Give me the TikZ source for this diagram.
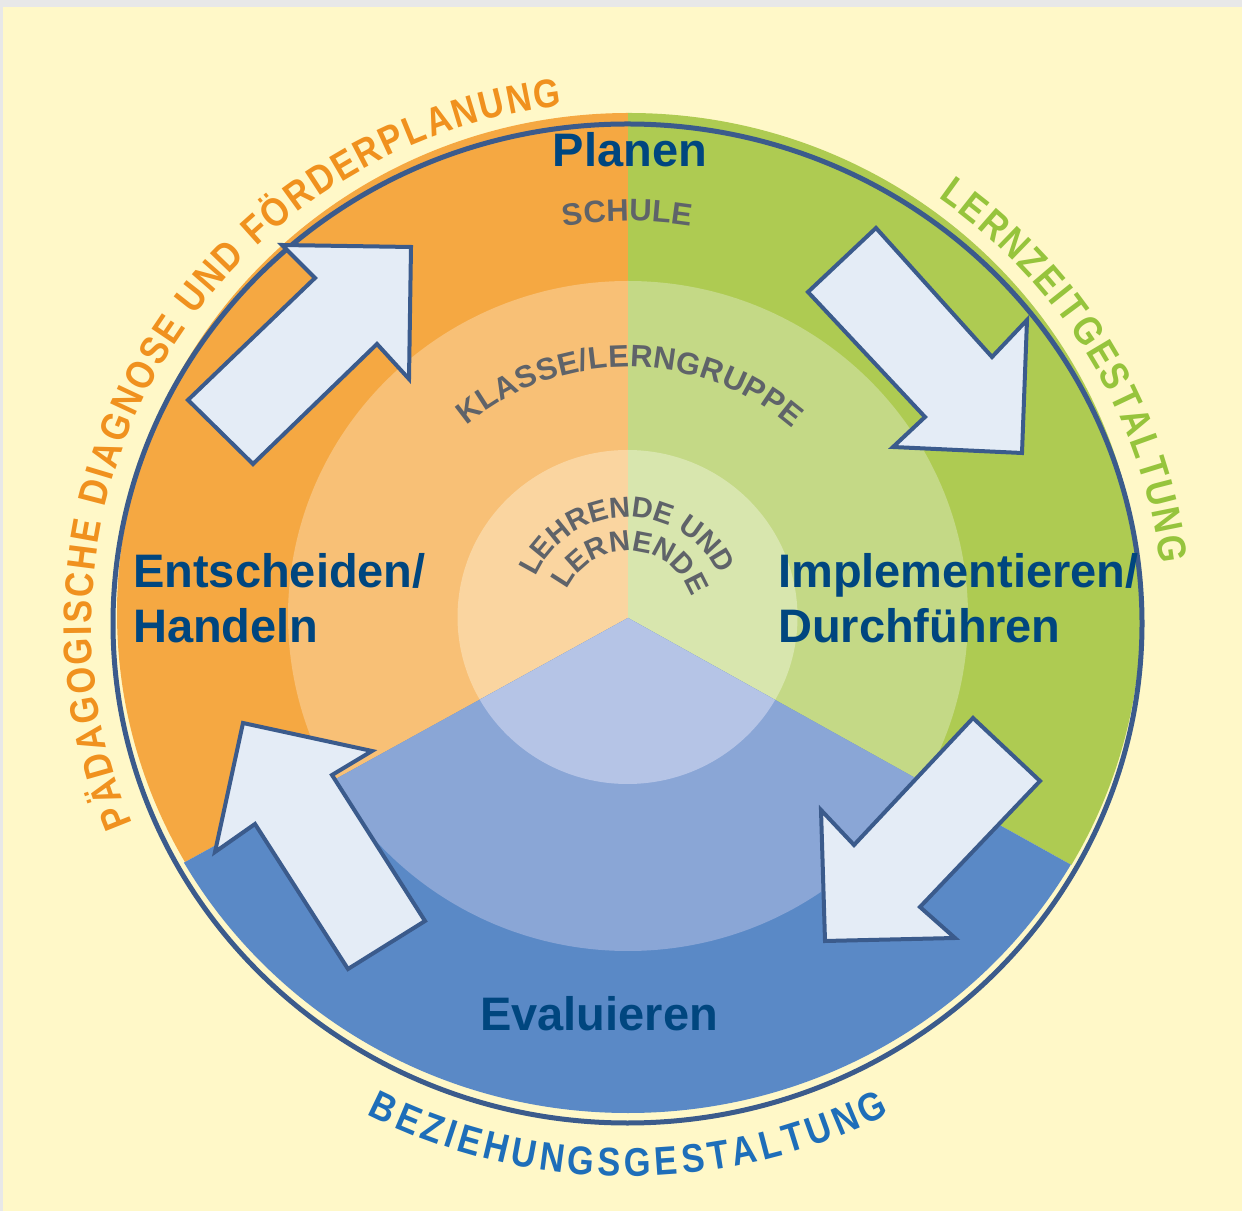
\documentclass[tikz,border=0pt]{standalone}
\usepackage{fontspec}
\setmainfont{Liberation Sans}
\newfontfamily\condbold[FakeStretch=0.86]{Liberation Sans Bold}
\usetikzlibrary{decorations.text}
\definecolor{bggray}{RGB}{232,232,232}
\definecolor{cream}{RGB}{255,248,200}
\definecolor{orA}{RGB}{245,168,66}
\definecolor{orB}{RGB}{248,192,118}
\definecolor{orC}{RGB}{250,213,160}
\definecolor{grA}{RGB}{174,203,82}
\definecolor{grB}{RGB}{196,217,134}
\definecolor{grC}{RGB}{216,230,174}
\definecolor{blA}{RGB}{90,137,198}
\definecolor{blB}{RGB}{138,166,214}
\definecolor{blC}{RGB}{181,196,230}
\definecolor{outl}{RGB}{59,91,140}
\definecolor{arrfill}{RGB}{228,236,246}
\definecolor{headcol}{RGB}{0,70,127}
\definecolor{ringtxt}{RGB}{95,99,105}
\definecolor{orT}{RGB}{240,145,30}
\definecolor{grT}{RGB}{150,196,60}
\definecolor{blT}{RGB}{30,110,185}
\newcommand\rfontA{\fontsize{31}{31}\selectfont\bfseries}
\newcommand\rfontB{\fontsize{29}{29}\selectfont\bfseries}
\newcommand\ofontA{\fontsize{40}{40}\selectfont\condbold}
\tikzset{
  blockarrow/.style={fill=arrfill, draw=outl, line width=4pt, line join=miter},
  heading/.style={font=\fontsize{47}{47}\selectfont\bfseries, text=headcol, inner sep=0pt},
}
\begin{document}
\begin{tikzpicture}[x=1pt,y=1pt]
\useasboundingbox (0,0) rectangle (1242,1211);
\fill[bggray] (0,0) rectangle (1242,1211);
\fill[cream] (3,0) rectangle (1242,1204);

% sectors
\begin{scope}
  \clip (628,593) -- (628,1211) -- (0,1211) -- (0,247) -- cycle;
  \fill[orA] (629,598) ellipse [x radius=512pt, y radius=500pt];
  \fill[orB] (628,595) ellipse [x radius=340pt, y radius=335pt];
  \fill[orC] (627.5,594) ellipse [x radius=170pt, y radius=167pt];
\end{scope}
\begin{scope}
  \clip (628,593) -- (628,1211) -- (1242,1211) -- (1242,251) -- cycle;
  \fill[grA] (629,598) ellipse [x radius=512pt, y radius=500pt];
  \fill[grB] (628,595) ellipse [x radius=340pt, y radius=335pt];
  \fill[grC] (627.5,594) ellipse [x radius=170pt, y radius=167pt];
\end{scope}
\begin{scope}
  \clip (628,593) -- (0,247) -- (0,0) -- (1242,0) -- (1242,251) -- cycle;
  \fill[blA] (628,597) ellipse [x radius=512pt, y radius=499pt];
  \fill[blB] (628,595) ellipse [x radius=340pt, y radius=335pt];
  \fill[blC] (627.5,594) ellipse [x radius=170pt, y radius=167pt];
\end{scope}

% outline
\draw[outl, line width=5pt] (627.5,587.5) ellipse [x radius=514.5pt, y radius=499.5pt];

% ring labels
\begin{scope}[shift={(628,593)}]
  \path[decorate, decoration={text along path, text align=fit to path, text color=ringtxt,
     text={|\rfontA|SCHULE}}] (99.3:397pt) arc [start angle=99.3, end angle=80.9, radius=397pt];
  \path[decorate, decoration={text along path, text align=fit to path, text color=ringtxt,
     text={|\rfontA|KLASSE/LERNGRUPPE}}] (130:251pt) arc [start angle=130, end angle=49, radius=251pt];
  \path[decorate, decoration={text along path, text align=fit to path, text color=ringtxt,
     text={|\rfontB|LEHRENDE UND}}] (156:101pt) arc [start angle=156, end angle=26, radius=101pt];
  \path[decorate, decoration={text along path, text align=fit to path, text color=ringtxt,
     text={|\rfontB|LERNENDE}}] (155:67pt) arc [start angle=155, end angle=25, radius=67pt];
\end{scope}

% outer labels
\begin{scope}[shift={(627.5,587.5)}]
  \path[decorate, decoration={text along path, text align=fit to path, text color=orT,
     text={|\ofontA|PÄDAGOGISCHE DIAGNOSE UND FÖRDERPLANUNG}}]
     (202.5:536pt and 522pt) arc [start angle=202.5, end angle=97, x radius=536pt, y radius=522pt];
  \path[decorate, decoration={text along path, text align=fit to path, text color=grT,
     text={|\ofontA|LERNZEITGESTALTUNG}}]
     (54.6:536pt and 522pt) arc [start angle=54.6, end angle=6.6, x radius=536pt, y radius=522pt];
  \path[decorate, decoration={text along path, text align=fit to path, text color=blT,
     text={|\ofontA|BEZIEHUNGSGESTALTUNG}}]
     (242.6:566pt and 553pt) arc [start angle=242.6, end angle=297.6, x radius=566pt, y radius=553pt];
\end{scope}

% block arrows
\draw[blockarrow] (188,811) -- (315,933) -- (282,966) -- (411,964) -- (409,832) -- (377,867) -- (253,747) -- cycle;
\draw[blockarrow] (876,983) -- (992,854) -- (1027,891) -- (1022,758) -- (893,764) -- (925,794) -- (808,919) -- cycle;
\draw[blockarrow] (973,493) -- (1040,430) -- (920,304) -- (955,273) -- (825,270) -- (821,401) -- (854,366) -- cycle;
\draw[blockarrow] (425,290) -- (348,242) -- (255,387) -- (215,359) -- (243,488) -- (372,460) -- (332,436) -- cycle;

% headings
\node[heading, anchor=base] (planen) at (630,1044) {Planen};
\node[heading, anchor=base west] (entsch) at (133,623) {Entscheiden/};
\node[heading, anchor=base west] (handeln) at (133,568) {Handeln};
\node[heading, anchor=base west] (impl) at (778,623) {Implementieren/};
\node[heading, anchor=base west] (durch) at (778,568) {Durchführen};
\node[heading, anchor=base] (evalu) at (599,181) {Evaluieren};
\end{tikzpicture}
\end{document}
